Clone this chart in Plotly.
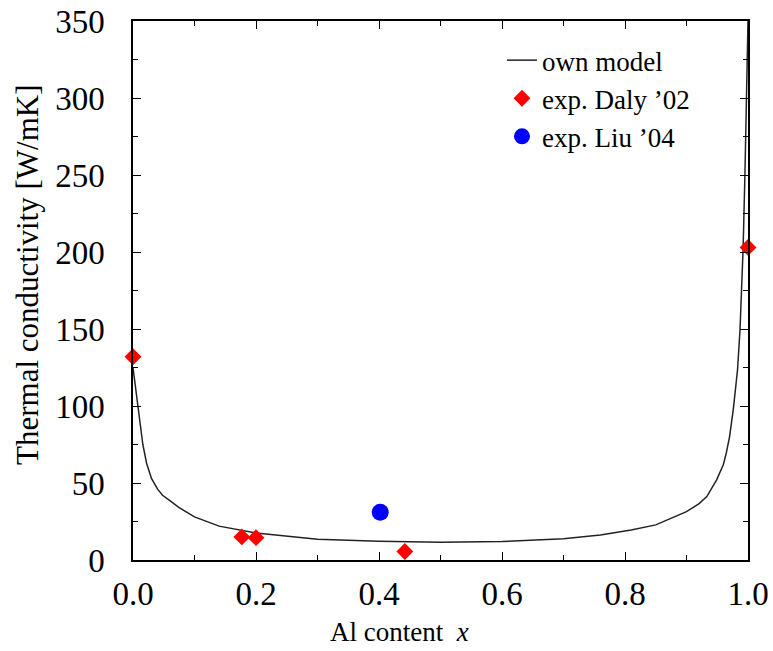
import plotly.graph_objects as go

# Model curve
model_x = [0, 0.002, 0.004, 0.008, 0.012, 0.016, 0.022, 0.03, 0.04, 0.048, 0.06, 0.075, 0.1,
           0.14, 0.2, 0.3, 0.4, 0.5, 0.6, 0.7, 0.76, 0.81, 0.85, 0.9, 0.92, 0.933, 0.949,
           0.96, 0.965, 0.97, 0.976, 0.983, 0.987, 0.99, 0.992, 0.995, 0.998, 1.0]
model_y = [125, 119, 110, 100, 86, 75, 63, 53, 46, 42, 38.5, 34, 28,
           22, 17.5, 13.4, 12.2, 11.6, 12.0, 13.8, 16.3, 19.5, 22.8, 31.4, 36.5, 41.2, 52,
           62, 70, 80, 97.5, 123.5, 149.5, 175.5, 201.6, 250, 310, 350]

# Experimental data
daly_x = [0.0, 0.177, 0.2, 0.442, 1.0]
daly_y = [132, 15, 14.5, 5.5, 203]

liu_x = [0.402]
liu_y = [31]

x_title = "Al content  <i>x</i>"
y_title = "Thermal conductivity [W/mK]"

FONT = "Liberation Serif"
W, H = 773, 651
ML, MR, MT, MB = 133, 25, 21, 91

fig = go.Figure()
fig.add_trace(go.Scatter(x=model_x, y=model_y, mode="lines", name="own model",
                         line=dict(color="#222222", width=1.5)))
fig.add_trace(go.Scatter(x=daly_x, y=daly_y, mode="markers", name="exp. Daly \u201902",
                         marker=dict(symbol="diamond", size=13, color="#ff0000"),
                         cliponaxis=False))
fig.add_trace(go.Scatter(x=liu_x, y=liu_y, mode="markers", name="exp. Liu \u201904",
                         marker=dict(symbol="circle", size=17, color="#0000ff")))

axis_common = dict(
    showgrid=False, zeroline=False, showline=True, linecolor="black", linewidth=1.5,
    mirror="allticks", ticks="inside", ticklen=8, tickwidth=1.2, tickcolor="black",
    tickfont=dict(family=FONT, size=33, color="black"), automargin=False,
)

fig.update_xaxes(range=[0, 1], dtick=0.2, tickformat=".1f",
                 minor=dict(dtick=0.1, ticks="inside", ticklen=5, tickcolor="black", tickwidth=1.2),
                 ticklabelstandoff=4,
                 **axis_common)
fig.update_yaxes(range=[0, 350], dtick=50,
                 minor=dict(dtick=25, ticks="inside", ticklen=5, tickcolor="black", tickwidth=1.2),
                 ticklabelstandoff=20,
                 **axis_common)

pw = W - ML - MR
ph = H - MT - MB
# axis titles placed as annotations (paper coords computed from pixel positions)
fig.add_annotation(text=x_title, xref="paper", yref="paper",
                   x=(399 - ML) / pw, y=-(632 - (H - MB)) / ph,
                   xanchor="center", yanchor="middle", showarrow=False,
                   font=dict(family=FONT, size=27, color="black"))
fig.add_annotation(text=y_title, xref="paper", yref="paper",
                   x=(27 - ML) / pw, y=((H - MB) - 275) / ph,
                   xanchor="center", yanchor="middle", showarrow=False, textangle=-90,
                   font=dict(family=FONT, size=31, color="black"))

fig.update_layout(
    width=W, height=H,
    margin=dict(l=ML, r=MR, t=MT, b=MB),
    paper_bgcolor="white", plot_bgcolor="white",
    font=dict(family=FONT, color="black"),
    legend=dict(x=0.6, y=0.972, xanchor="left", yanchor="top",
                font=dict(family=FONT, size=27, color="black"),
                bgcolor="rgba(0,0,0,0)", tracegroupgap=0),
)

fig.write_html("out.html")
